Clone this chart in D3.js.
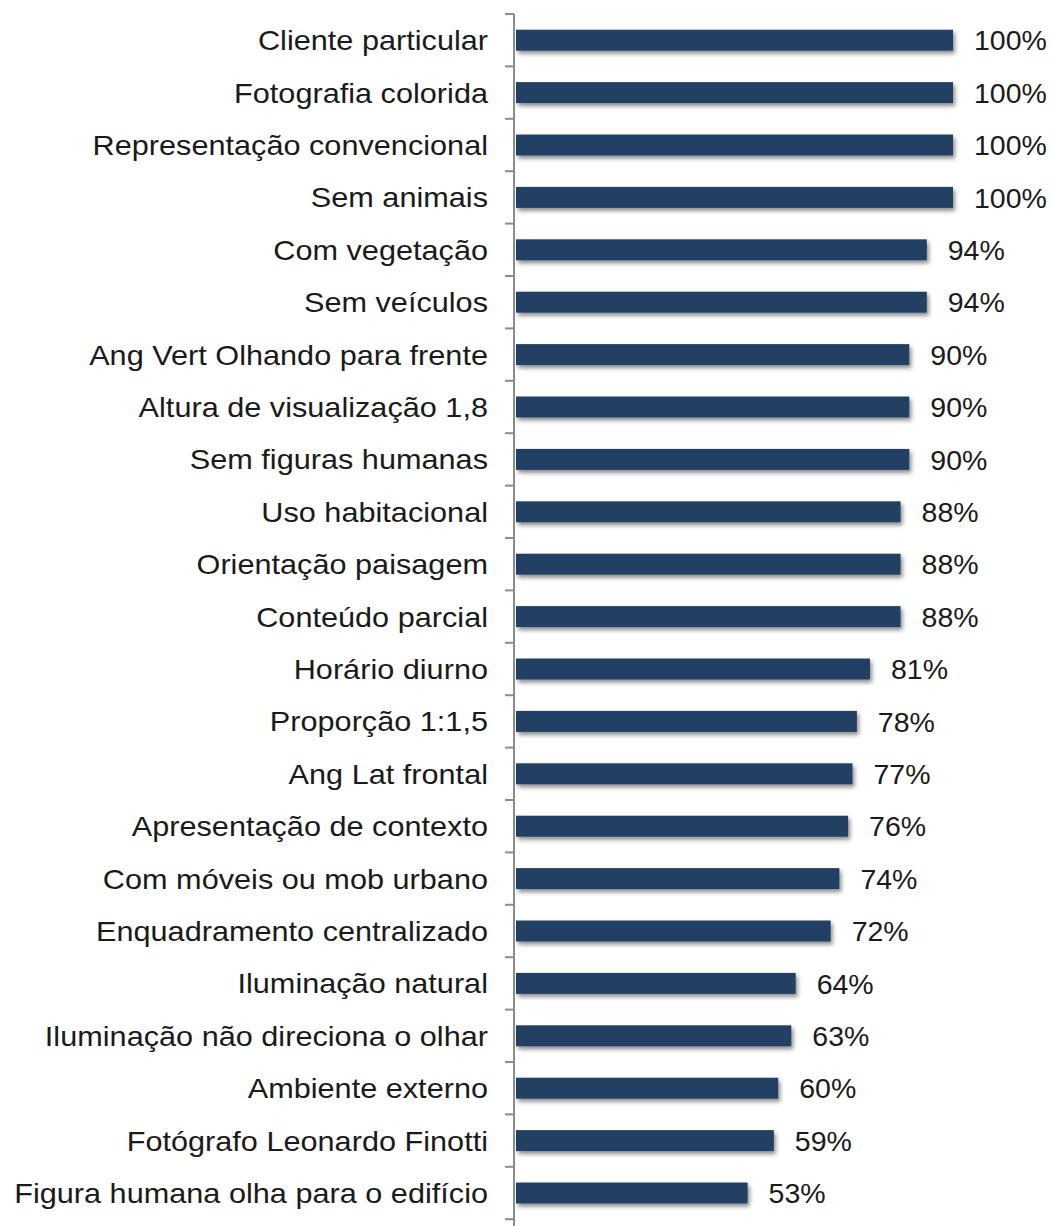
<!DOCTYPE html>
<html>
<head>
<meta charset="utf-8">
<script src="https://cdn.jsdelivr.net/npm/d3@7"></script>
<style>
  html, body { margin: 0; padding: 0; background: #fff; }
  svg { display: block; }
  text { font-family: "Liberation Sans", Arial, sans-serif; fill: #1a1a1a; }
</style>
</head>
<body>
<svg id="chart" width="1053" height="1226"></svg>
<script>
// Share of images presenting each characteristic (%)
const categories = [
  "Cliente particular",
  "Fotografia colorida",
  "Representação convencional",
  "Sem animais",
  "Com vegetação",
  "Sem veículos",
  "Ang Vert Olhando para frente",
  "Altura de visualização 1,8",
  "Sem figuras humanas",
  "Uso habitacional",
  "Orientação paisagem",
  "Conteúdo parcial",
  "Horário diurno",
  "Proporção 1:1,5",
  "Ang Lat frontal",
  "Apresentação de contexto",
  "Com móveis ou mob urbano",
  "Enquadramento centralizado",
  "Iluminação natural",
  "Iluminação não direciona o olhar",
  "Ambiente externo",
  "Fotógrafo Leonardo Finotti",
  "Figura humana olha para o edifício"
];
const values = [100, 100, 100, 100, 94, 94, 90, 90, 90, 88, 88, 88, 81, 78, 77, 76, 74, 72, 64, 63, 60, 59, 53];

const svg = d3.select("#chart");
const axisX = 514;
const plotTop = 14;
const step = 52.4;

const x = d3.scaleLinear().domain([0, 100]).range([axisX + 2, 953]);
const y = d3.scaleBand()
  .domain(categories)
  .range([plotTop, plotTop + step * categories.length])
  .paddingInner(0.6)
  .paddingOuter(0.3);

// soft drop shadow under the bars
const defs = svg.append("defs");
const f = defs.append("filter").attr("id", "shadow")
  .attr("x", "-5%").attr("y", "-40%").attr("width", "115%").attr("height", "200%");
f.append("feDropShadow")
  .attr("dx", 2).attr("dy", 3).attr("stdDeviation", 2)
  .attr("flood-color", "#000").attr("flood-opacity", 0.45);

// bars
svg.append("g").selectAll("rect")
  .data(values)
  .join("rect")
  .attr("x", x(0))
  .attr("y", (d, i) => y(categories[i]))
  .attr("width", d => x(d) - x(0))
  .attr("height", y.bandwidth())
  .attr("fill", "#213f63")
  .attr("filter", "url(#shadow)");

// vertical category axis with ticks on band boundaries
const axisG = svg.append("g");
axisG.append("line")
  .attr("x1", axisX).attr("x2", axisX)
  .attr("y1", plotTop).attr("y2", 1226)
  .attr("stroke", "#8c8c8c").attr("stroke-width", 2);
const boundaries = d3.range(categories.length + 1).map(i => plotTop + i * step);
axisG.selectAll("line.tick")
  .data(boundaries)
  .join("line")
  .attr("class", "tick")
  .attr("x1", axisX - 9).attr("x2", axisX)
  .attr("y1", d => d).attr("y2", d => d)
  .attr("stroke", "#8c8c8c").attr("stroke-width", 2);

// category labels (slightly wide set type)
svg.append("g").selectAll("text")
  .data(categories)
  .join("text")
  .attr("transform", d => `translate(488,${y(d) + y.bandwidth() / 2}) scale(1.095,1)`)
  .attr("dy", "0.36em")
  .attr("text-anchor", "end")
  .style("font-size", "28px")
  .text(d => d);

// value labels
svg.append("g").selectAll("text")
  .data(values)
  .join("text")
  .attr("x", d => x(d) + 21)
  .attr("y", (d, i) => y(categories[i]) + y.bandwidth() / 2)
  .attr("dy", "0.36em")
  .style("font-size", "28.5px")
  .text(d => d + "%");
</script>
</body>
</html>
